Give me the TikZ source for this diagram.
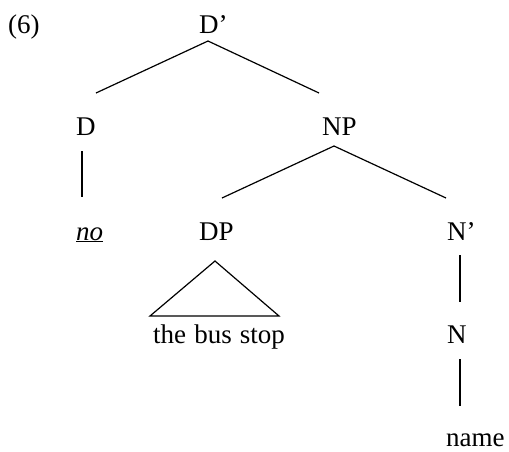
\documentclass[tikz,border=0pt]{standalone}
\usepackage{fontspec}
\setmainfont{Liberation Serif}
\begin{document}
\begin{tikzpicture}[x=1pt,y=-1pt,
  lbl/.style={anchor=base west,inner sep=0pt,font=\fontsize{27}{31}\selectfont},
  branch/.style={line width=1.2pt}]
\useasboundingbox (0,0) rectangle (509,451);
% labels
\node[lbl] (ex)   at (8,33)    {(6)};
\node[lbl] (Dbar) at (199,33)  {D’};
\node[lbl] (D)    at (76,135)  {D};
\node[lbl] (NP)   at (322,135) {NP};
\node[lbl] (no)   at (76,240)  {\underline{\textit{no}}};
\node[lbl] (DP)   at (199,240) {DP};
\node[lbl] (Nbar) at (447,240) {N’};
\node[lbl] (bus)  at (153,343) {the\hspace{0.3em}bus\hspace{0.3em}stop};
\node[lbl] (N)    at (447,343) {N};
\node[lbl] (name) at (446,446) {name};
% branch end points
\coordinate (Dbar-b) at (208,41);
\coordinate (D-t)    at (96,93);
\coordinate (NP-t)   at (319,93);
\coordinate (D-b)    at (82,151);
\coordinate (no-t)   at (82,197);
\coordinate (NP-b)   at (334,146);
\coordinate (DP-t)   at (222,198);
\coordinate (Nbar-t) at (446,198);
\coordinate (DP-b)   at (215,261);
\coordinate (bus-l)  at (150,316);
\coordinate (bus-r)  at (279,316);
\coordinate (Nbar-b) at (460,255);
\coordinate (N-t)    at (460,302);
\coordinate (N-b)    at (460,359);
\coordinate (name-t) at (460,406);
% branches
\draw[branch] (D-t) -- (Dbar-b) -- (NP-t);
\draw[branch] (D-b) -- (no-t);
\draw[branch] (DP-t) -- (NP-b) -- (Nbar-t);
\draw[branch] (bus-l) -- (DP-b) -- (bus-r) -- cycle;
\draw[branch] (Nbar-b) -- (N-t);
\draw[branch] (N-b) -- (name-t);
\end{tikzpicture}
\end{document}
